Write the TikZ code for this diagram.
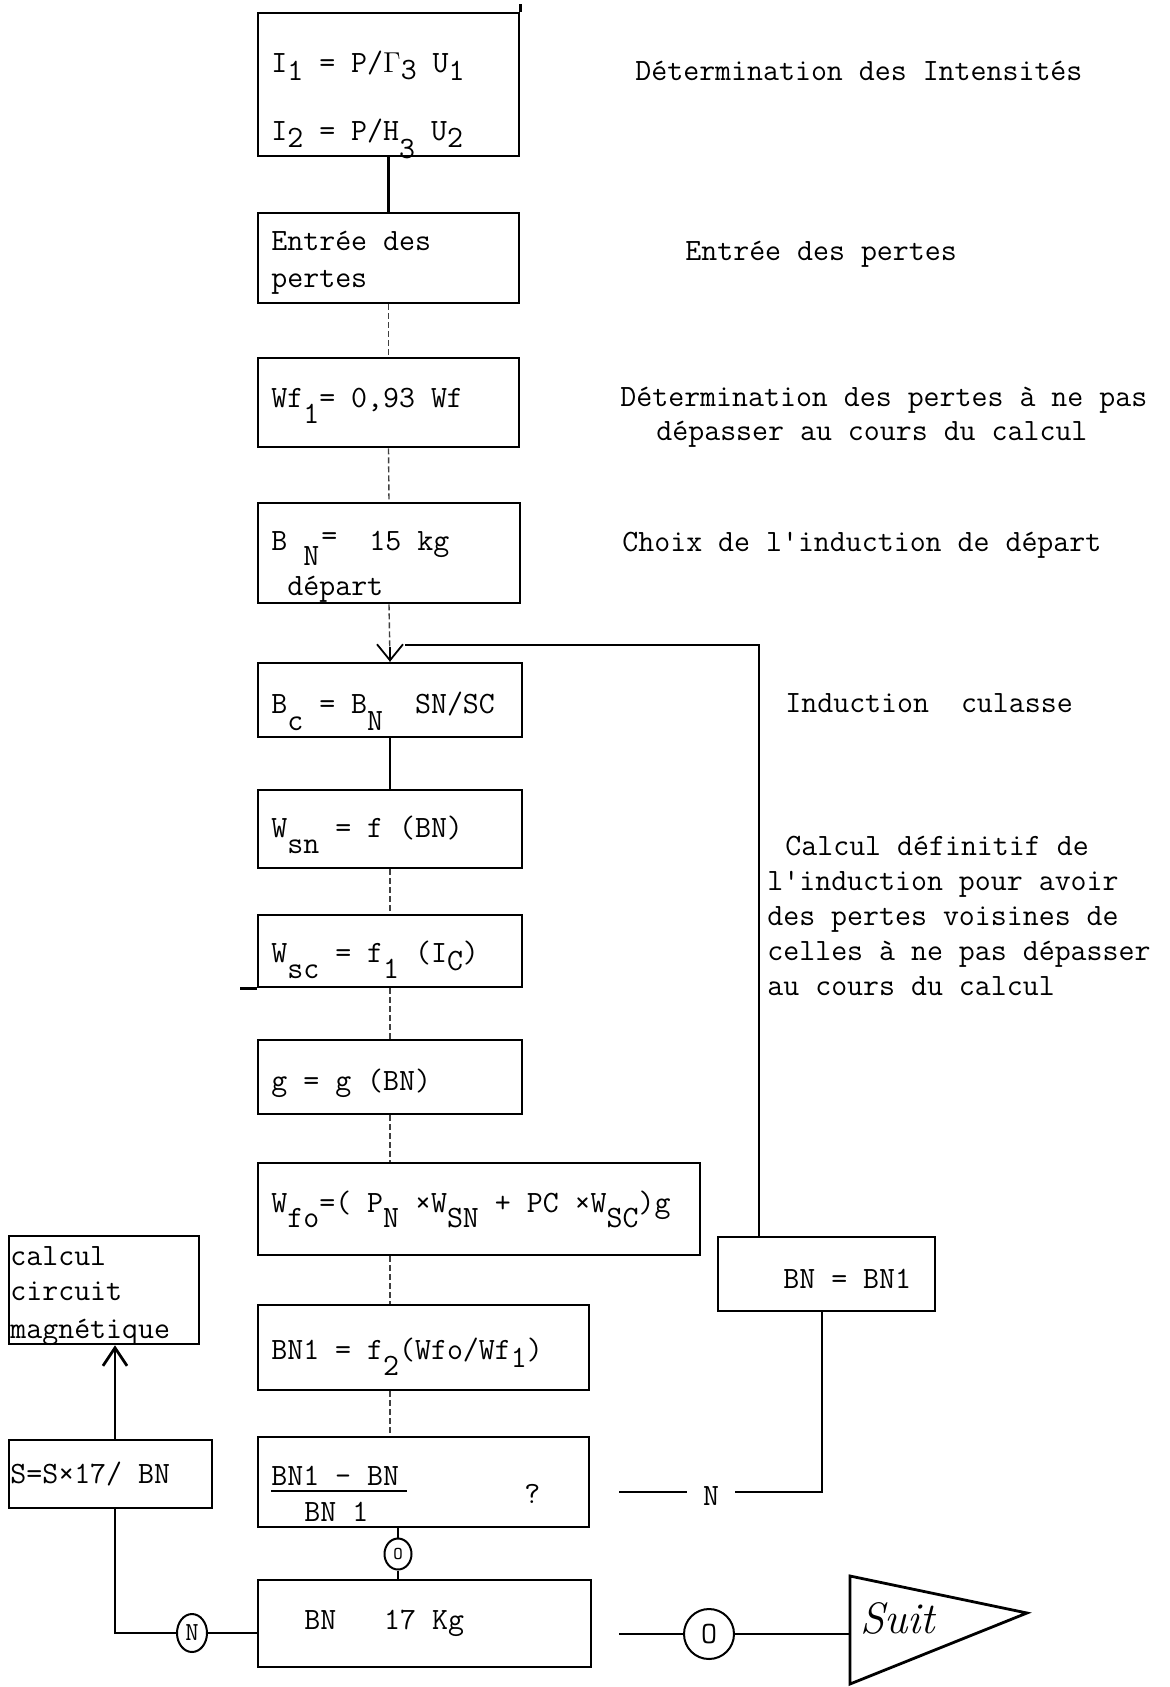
\documentclass[tikz,border=0pt]{standalone}
\usetikzlibrary{arrows.meta,fit,shapes.geometric}
% typewriter lettering and half-line lowered characters
\newcommand\typew{\ttfamily\fontsize{15.5}{17.5}\selectfont}
\newcommand\dn[2][8pt]{\raisebox{-#1}{#2}}
\begin{document}
\begin{tikzpicture}[x=0.5pt,y=-0.5pt,
  box/.style={draw, line width=1.3pt, inner sep=0pt},
  boxline/.style={line width=1.3pt},
  txt/.style={anchor=base west, inner sep=0pt, font=\typew},
  solidln/.style={line width=1.2pt},
  faint/.style={line width=0.7pt, black!75, dash pattern=on 3pt off 1.5pt},
  fback/.style={line width=1.3pt},
  barb/.style={-{Straight Barb[length=8pt,width=13pt]}},
  ring/.style={draw, ellipse, line width=1pt, inner sep=0pt},
]
\fill[white] (0,0) rectangle (1170,1687);
\useasboundingbox (0,0) rectangle (1170,1687);

% ---------- main column of boxes ----------
\node[box, fit={(258,13) (519,156)}]   (b1) {};
\node[box, fit={(258,213) (519,303)}]  (b2) {};
\node[box, fit={(258,358) (519,447)}]  (b3) {};
\node[box, fit={(258,503) (520,603)}]  (b4) {};
\node[box, fit={(258,663) (522,737)}]  (b5) {};
\node[box, fit={(258,790) (522,868)}]  (b6) {};
\node[box, fit={(258,915) (522,987)}]  (b7) {};
\node[box, fit={(258,1040) (522,1114)}] (b8) {};
\node[box, fit={(258,1163) (700,1255)}] (b9) {};
\node[box, fit={(258,1305) (589,1390)}] (b10) {};
\node[box, fit={(258,1437) (589,1527)}] (b11) {};
\node[box, fit={(258,1580) (591,1667)}] (b12) {};
% side boxes
\node[box, fit={(9,1236) (199,1344)}]   (bL1) {};
\node[box, fit={(9,1440) (212,1508)}]   (bL2) {};
\node[box, fit={(718,1237) (935,1311)}] (bR) {};

% small overhangs of the ruled frames
\draw[boxline] (b1.north east) -- ++(0,-8);
\draw[boxline] (b7.south west) -- ++(-17,0);

% ---------- texts inside the boxes ----------
\node[txt] (t1a) at (271,72)  {I\dn[4pt]{1} = P/$\Gamma$\dn[3.5pt]{3} U\dn[4pt]{1}};
\node[txt] (t1b) at (271,140) {I\dn[3.5pt]{2} = P/H\dn[9pt]{3} U\dn[3.5pt]{2}};
\node[txt] (t2a) at (271,250) {Entrée des};
\node[txt] (t2b) at (271,287) {pertes};
\node[txt] (t3)  at (271,407) {Wf\dn[8pt]{1}= 0,93 Wf};
\node[txt] (t4a) at (271,550) {B};
\node[txt] (t4b) at (303,565) {N};
\node[txt] (t4c) at (321,545) {=};
\node[txt] (t4d) at (369,550) {15 kg};
\node[txt] (t4e) at (287,595) {départ};
\node[txt] (t5)  at (271,713) {B\dn[8.5pt]{c} = B\dn[8.5pt]{N}~~SN/SC};
\node[txt] (t6)  at (271,837) {W\dn[8pt]{sn} = f (BN)};
\node[txt] (t7)  at (271,962) {W\dn[8pt]{sc} = f\dn[8pt]{1} (I\dn[4pt]{C})};
\node[txt] (t8)  at (271,1090) {g = g (BN)};
\node[txt] (t9)  at (271,1212) {W\dn[7.5pt]{fo}=(~P\dn[7.5pt]{N}~×W\dn[7.5pt]{SN}~+~PC~×W\dn[7.5pt]{SC})g};
\node[txt] (t10) at (271,1359) {BN1 = f\dn[8pt]{2}(Wfo/Wf\dn[4pt]{1})};
\node[txt] (t11a) at (271,1485) {BN1 - BN};
\draw[line width=1pt] (271,1491) -- (407,1491);
\node[txt] (t11b) at (304,1521) {BN 1};
\node[txt] (t11c) at (524,1503) {?};
\node[txt] (t12) at (304,1629) {BN~~~17 Kg};
\node[txt] (tL1a) at (10,1265) {calcul};
\node[txt] (tL1b) at (10,1300) {circuit};
\node[txt] (tL1c) at (10,1338) {magnétique};
\node[txt] (tL2) at (10,1483) {S=S×17/ BN};
\node[txt] (tR)  at (783,1288) {BN = BN1};

% ---------- comments in the right-hand column ----------
\node[txt] (c1)  at (635,80)  {Détermination des Intensités};
\node[txt] (c2)  at (685,260) {Entrée des pertes};
\node[txt] (c3a) at (620,406) {Détermination des pertes à ne pas};
\node[txt] (c3b) at (656,440) {dépasser au cours du calcul};
\node[txt] (c4)  at (622,551) {Choix de l'induction de départ};
\node[txt] (c5)  at (785,712) {Induction~~culasse};
\node[txt] (c6a) at (785,855) {Calcul définitif de};
\node[txt] (c6b) at (767,890) {l'induction pour avoir};
\node[txt] (c6c) at (767,925) {des pertes voisines de};
\node[txt] (c6d) at (767,960) {celles à ne pas dépasser};
\node[txt] (c6e) at (767,995) {au cours du calcul};

% ---------- flow down the main column ----------
\coordinate (cx)  at (390,0);
\coordinate (cx2) at (398,0);
\draw[solidln] (b1.south) -- (b2.north);
\draw[faint] (b2.south) -- (b3.north);
\draw[faint] (b3.south) -- (b4.north);
\draw[faint] (b4.south) -- (b5.north);
\draw[line width=0.9pt, barb] (390,647) -- (b5.north);
\draw[line width=0.8pt] (b5.south) -- (b6.north);
\draw[faint] (b6.south) -- (b7.north);
\draw[faint] (b7.south) -- (b8.north);
\draw[faint] (b8.south) -- (b9.north -| cx);
\draw[faint] (b9.south -| cx) -- (b10.north -| cx);
\draw[faint] (b10.south -| cx) -- (b11.north -| cx);

% yes-branch between the test and the final check
\node[ring, minimum width=13.5pt, minimum height=15.5pt,
      font=\ttfamily\fontsize{9}{10}\selectfont] (o1) at (398,1554) {O};
\draw[solidln] (b11.south -| cx2) -- (o1);
\draw[solidln] (o1) -- (b12.north -| cx2);

% no-branch of the test: back through BN = BN1 to the top of the loop
\coordinate (nL) at (619,1492);
\node[font=\typew, inner sep=0pt, minimum width=24pt] (nlab) at (711,1496) {N};
\coordinate (rx) at (822,0);
\draw[fback] (nL) -- (nlab.west |- nL);
\draw[fback] (nlab.east |- nL) -| (bR.south -| rx);
\coordinate (fx) at (759,0);
\coordinate (fend) at (405,645);
\draw[fback] (bR.north -| fx) |- (fend);

% final check: N to the left, O to the right
\node[ring, minimum width=15pt, minimum height=19pt,
      font=\ttfamily\fontsize{13}{14}\selectfont] (nc) at (192,1633) {N};
\coordinate (lx) at (115,0);
\draw[solidln] (b12.west |- nc) -- (nc);
\draw[solidln] (nc.west) -| (bL2.south -| lx);
\draw[line width=1.4pt, -{Straight Barb[length=9pt,width=12pt]}] (bL2.north -| lx) -- (bL1.south -| lx);

\coordinate (oL) at (619,1634);
\node[ring, minimum width=25pt, minimum height=25pt, font=\typew] (o2) at (709,1634) {O};
\coordinate (triL) at (850,1634);
\draw[solidln] (oL) -- (o2);
\draw[solidln] (o2) -- (triL);

% continuation marker
\coordinate (tA) at (850,1576);
\coordinate (tB) at (1027,1613);
\coordinate (tC) at (850,1684);
\draw[line width=1.4pt, line join=miter] (tA) -- (tB) -- (tC) -- cycle;
\node[anchor=base west, inner sep=0pt, font=\fontsize{22}{24}\selectfont\itshape] (suit) at (860,1633) {Suit};
\end{tikzpicture}
\end{document}
